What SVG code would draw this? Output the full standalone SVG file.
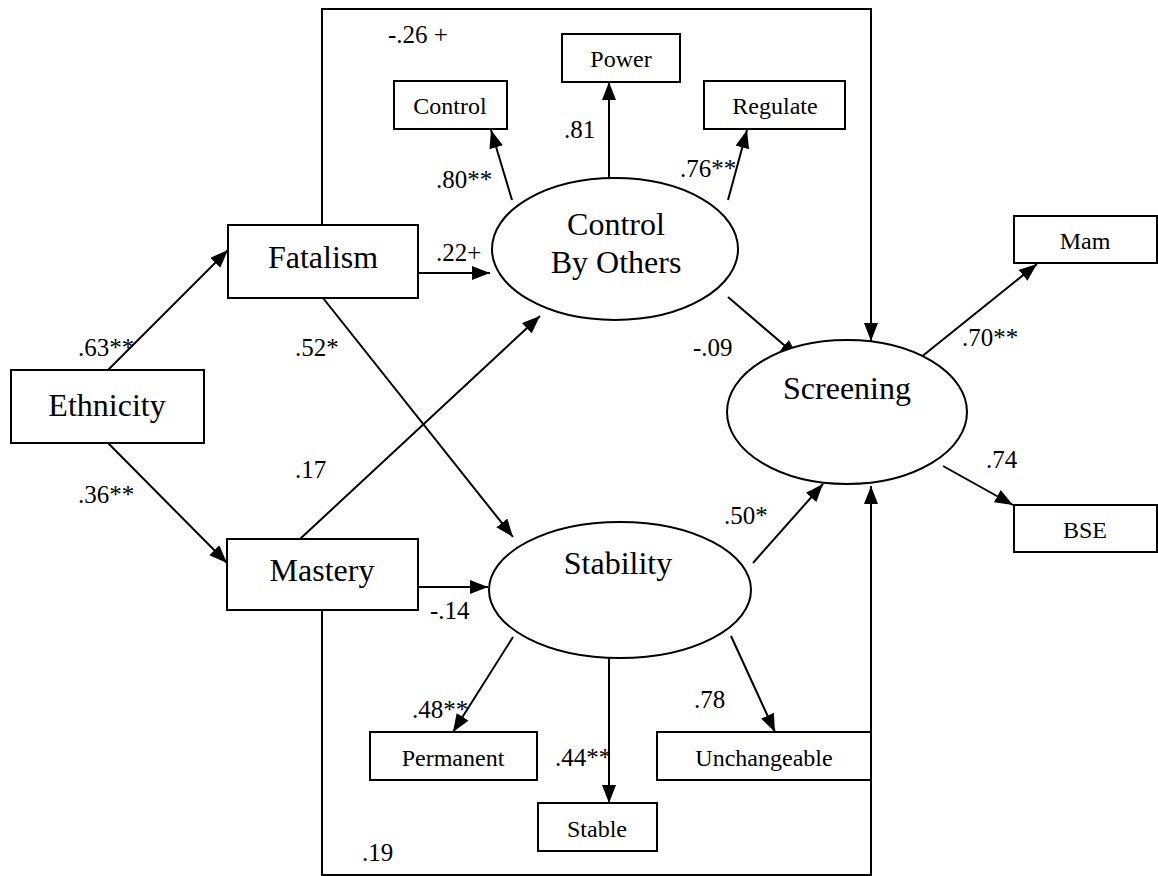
<svg xmlns="http://www.w3.org/2000/svg" width="1158" height="876" viewBox="0 0 1158 876">
  <defs>
    <marker id="arrow" markerUnits="userSpaceOnUse" markerWidth="20" markerHeight="16" refX="18" refY="7" orient="auto">
      <path d="M0,0 L18,7 L0,14 Z" fill="#000"/>
    </marker>
    <style>
      .box { fill: #fff; stroke: #000; stroke-width: 2; }
      .ell { fill: #fff; stroke: #000; stroke-width: 2; }
      .edge { fill: none; stroke: #000; stroke-width: 2; marker-end: url(#arrow); }
      .big { font-family: "Liberation Serif", "Times New Roman", serif; font-size: 32px; text-anchor: middle; fill: #000; }
      .small { font-family: "Liberation Serif", "Times New Roman", serif; font-size: 24px; text-anchor: middle; fill: #000; }
      .coef { font-family: "Liberation Serif", "Times New Roman", serif; font-size: 25px; fill: #000; }
    </style>
  </defs>
  <rect width="1158" height="876" fill="#fff"/>

  <!-- connectors -->
  <g id="connectors">
    <polyline class="edge" points="322,225 322,9 871,9 871,341"/>
    <polyline class="edge" points="322,610 322,875 871,875 871,486"/>
    <line class="edge" x1="108" y1="370" x2="228" y2="250"/>
    <line class="edge" x1="108" y1="443" x2="227" y2="563"/>
    <line class="edge" x1="418" y1="273" x2="490" y2="273"/>
    <line class="edge" x1="323" y1="298" x2="513" y2="537"/>
    <line class="edge" x1="300" y1="539" x2="540" y2="316"/>
    <line class="edge" x1="418" y1="587" x2="488" y2="587"/>
    <line class="edge" x1="512" y1="200" x2="491" y2="130"/>
    <line class="edge" x1="609" y1="178" x2="609" y2="82"/>
    <line class="edge" x1="728" y1="200" x2="747" y2="130"/>
    <line class="edge" x1="728" y1="297" x2="798" y2="357"/>
    <line class="edge" x1="920" y1="358" x2="1037" y2="264"/>
    <line class="edge" x1="943" y1="466" x2="1013" y2="505"/>
    <line class="edge" x1="753" y1="563" x2="823" y2="484"/>
    <line class="edge" x1="513" y1="637" x2="453" y2="732"/>
    <line class="edge" x1="609" y1="658" x2="609" y2="803"/>
    <line class="edge" x1="731" y1="636" x2="775" y2="732"/>
  </g>

  <!-- nodes -->
  <g id="ethnicity">
    <rect class="box" x="11" y="370" width="193" height="73"/>
    <text class="big" x="107" y="416">Ethnicity</text>
  </g>
  <g id="fatalism">
    <rect class="box" x="228" y="225" width="190" height="73"/>
    <text class="big" x="323" y="268">Fatalism</text>
  </g>
  <g id="mastery">
    <rect class="box" x="227" y="539" width="191" height="71"/>
    <text class="big" x="322" y="581">Mastery</text>
  </g>
  <g id="control-by-others">
    <ellipse class="ell" cx="615" cy="249" rx="123" ry="71"/>
    <text class="big" x="616" y="235">Control</text>
    <text class="big" x="616" y="273">By Others</text>
  </g>
  <g id="stability">
    <ellipse class="ell" cx="620" cy="590" rx="131" ry="68"/>
    <text class="big" x="618" y="574">Stability</text>
  </g>
  <g id="screening">
    <ellipse class="ell" cx="847" cy="412" rx="120" ry="72"/>
    <text class="big" x="847" y="399">Screening</text>
  </g>
  <g id="control">
    <rect class="box" x="394" y="81" width="113" height="48"/>
    <text class="small" x="450" y="114">Control</text>
  </g>
  <g id="power">
    <rect class="box" x="562" y="34" width="118" height="48"/>
    <text class="small" x="621" y="67">Power</text>
  </g>
  <g id="regulate">
    <rect class="box" x="704" y="81" width="141" height="48"/>
    <text class="small" x="775" y="114">Regulate</text>
  </g>
  <g id="mam">
    <rect class="box" x="1014" y="216" width="143" height="47"/>
    <text class="small" x="1085" y="249">Mam</text>
  </g>
  <g id="bse">
    <rect class="box" x="1014" y="505" width="143" height="47"/>
    <text class="small" x="1085" y="538">BSE</text>
  </g>
  <g id="permanent">
    <rect class="box" x="370" y="732" width="167" height="48"/>
    <text class="small" x="453" y="766">Permanent</text>
  </g>
  <g id="stable">
    <rect class="box" x="538" y="803" width="119" height="48"/>
    <text class="small" x="597" y="837">Stable</text>
  </g>
  <g id="unchangeable">
    <rect class="box" x="657" y="732" width="214" height="48"/>
    <text class="small" x="764" y="766">Unchangeable</text>
  </g>

  <!-- path coefficients -->
  <g id="coefficients">
    <text class="coef" x="388" y="43">-.26 +</text>
    <text class="coef" x="564" y="138">.81</text>
    <text class="coef" x="436" y="188">.80**</text>
    <text class="coef" x="680" y="177">.76**</text>
    <text class="coef" x="436" y="261">.22+</text>
    <text class="coef" x="78" y="356">.63**</text>
    <text class="coef" x="295" y="356">.52*</text>
    <text class="coef" x="295" y="478">.17</text>
    <text class="coef" x="78" y="503">.36**</text>
    <text class="coef" x="693" y="356">-.09</text>
    <text class="coef" x="962" y="346">.70**</text>
    <text class="coef" x="986" y="468">.74</text>
    <text class="coef" x="724" y="524">.50*</text>
    <text class="coef" x="430" y="619">-.14</text>
    <text class="coef" x="412" y="718">.48**</text>
    <text class="coef" x="555" y="766">.44**</text>
    <text class="coef" x="694" y="708">.78</text>
    <text class="coef" x="362" y="861">.19</text>
  </g>
</svg>
